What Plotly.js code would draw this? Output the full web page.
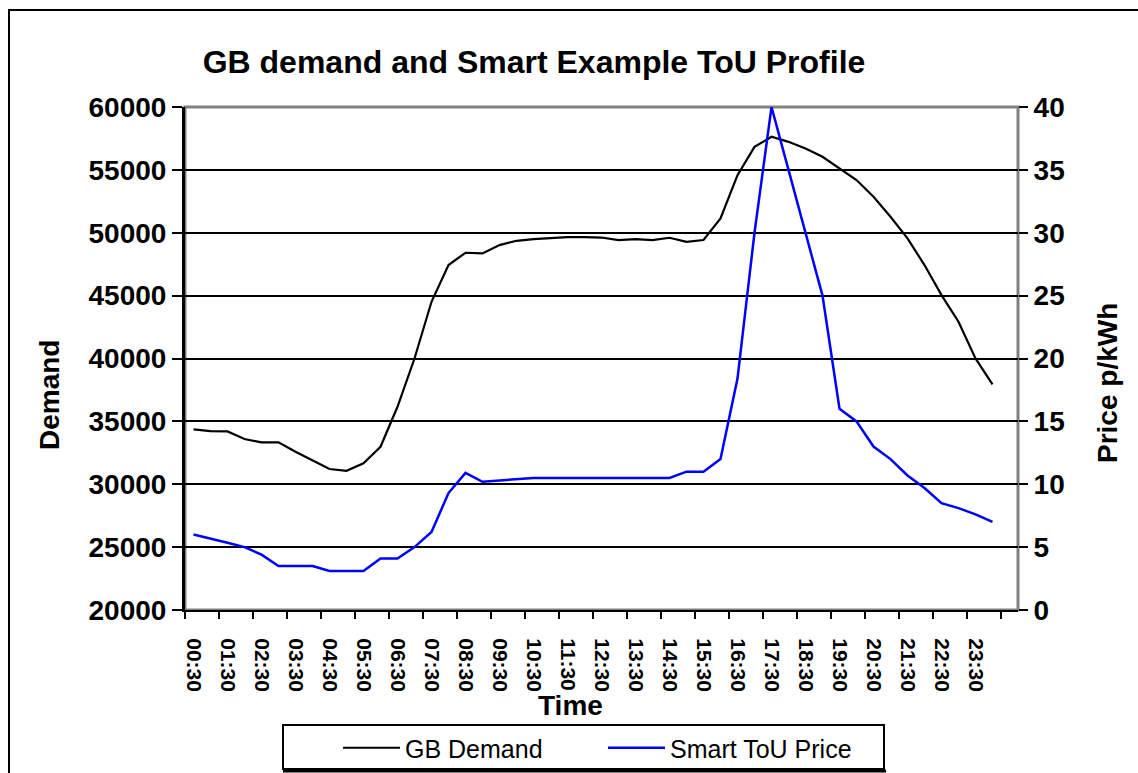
<!DOCTYPE html>
<html>
<head>
<meta charset="utf-8">
<script src="https://cdn.plot.ly/plotly-3.0.1.min.js"></script>
<style>html,body{margin:0;padding:0;background:#fff;}#chart{width:1138px;height:773px;}</style>
</head>
<body>
<div id="chart"></div>
<script>
// Half-hourly time categories
const times = ["00:30","01:00","01:30","02:00","02:30","03:00","03:30","04:00","04:30","05:00","05:30","06:00",
  "06:30","07:00","07:30","08:00","08:30","09:00","09:30","10:00","10:30","11:00","11:30","12:00",
  "12:30","13:00","13:30","14:00","14:30","15:00","15:30","16:00","16:30","17:00","17:30","18:00",
  "18:30","19:00","19:30","20:00","20:30","21:00","21:30","22:00","22:30","23:00","23:30","00:00"];

// GB demand (MW)
const gbDemand = [34370, 34230, 34200, 33600, 33330, 33330, 32590, 31870, 31210, 31070, 31660, 32980,
  36160, 40000, 44510, 47430, 48410, 48360, 49020, 49360, 49500, 49570, 49650, 49650,
  49620, 49420, 49500, 49420, 49600, 49280, 49420, 51140, 54580, 56830, 57630, 57230,
  56700, 56040, 55110, 54190, 52860, 51270, 49550, 47430, 45040, 42920, 40010, 37940];

// Smart ToU price (p/kWh)
const touPrice = [6.0, 5.7, 5.35, 5.0, 4.4, 3.5, 3.5, 3.5, 3.1, 3.1, 3.1, 4.1,
  4.1, 5.0, 6.2, 9.3, 10.9, 10.2, 10.3, 10.4, 10.5, 10.5, 10.5, 10.5,
  10.5, 10.5, 10.5, 10.5, 10.5, 11.0, 11.0, 12.0, 18.4, 30.0, 40.0, 35.0,
  30.0, 25.0, 16.0, 15.0, 13.0, 12.0, 10.7, 9.7, 8.5, 8.1, 7.6, 7.0];

const idx = times.map((t, i) => i);
const labelIdx = idx.filter(i => i % 2 === 0 && i < 47);
const labelText = labelIdx.map(i => times[i]);

const FONT = "Liberation Sans, Arial, sans-serif";

const traces = [
  {x: idx, y: gbDemand, text: times, type: 'scatter', mode: 'lines', name: 'GB Demand',
   line: {color: '#000000', width: 2.2}, yaxis: 'y'},
  {x: idx, y: touPrice, text: times, type: 'scatter', mode: 'lines', name: 'Smart ToU Price',
   line: {color: '#0000ff', width: 2.5}, yaxis: 'y2'}
];

// pixel helpers for paper coords (plot area: x 185..1018, y 107..610)
const PX = px => (px - 185) / 833;
const PY = py => (610 - py) / 503;

const layout = {
  width: 1138, height: 773,
  margin: {l: 185, r: 120, t: 107, b: 163, autoexpand: false},
  paper_bgcolor: '#ffffff', plot_bgcolor: '#ffffff',
  font: {family: FONT, color: '#000'},
  showlegend: true,
  title: {text: 'GB demand and Smart Example ToU Profile', font: {family: FONT, size: 32, color: '#000', weight: 'bold'},
          xref: 'container', x: 534/1138, xanchor: 'center', yref: 'container', y: 1 - 62/773, yanchor: 'middle', automargin: false},
  xaxis: {
    range: [-0.5, 48.5], type: 'linear', zeroline: false, showgrid: false, automargin: false,
    tickmode: 'array', tickvals: labelIdx, ticktext: labelText, tickangle: 90,
    ticks: '', ticklabelstandoff: 22,
    tickfont: {family: FONT, size: 21, color: '#000', weight: 'bold'},
    showline: true, linecolor: '#000', linewidth: 2,
    minor: {tickmode: 'linear', tick0: -0.5, dtick: 2, ticks: 'outside', ticklen: 7, tickwidth: 2, tickcolor: '#000', showgrid: false}
  },
  yaxis: {
    range: [20000, 60000], dtick: 5000, tick0: 20000, zeroline: false, automargin: false,
    tickformat: 'd',
    showgrid: true, gridcolor: '#000', gridwidth: 2,
    ticks: 'outside', ticklen: 10, tickwidth: 2, tickcolor: '#000',
    showline: true, linecolor: '#000', linewidth: 3,
    tickfont: {family: FONT, size: 28, color: '#000', weight: 'bold'}
  },
  yaxis2: {
    range: [0, 40], dtick: 5, tick0: 0, overlaying: 'y', side: 'right', zeroline: false, automargin: false,
    showgrid: false, ticks: 'outside', ticklen: 9, tickwidth: 2, tickcolor: '#000',
    showline: false,
    tickfont: {family: FONT, size: 28, color: '#000', weight: 'bold'}
  },
  legend: {
    orientation: 'h', xref: 'paper', yref: 'paper', x: PX(338), xanchor: 'left', y: PY(725), yanchor: 'top',
    itemwidth: 57, entrywidth: 193, entrywidthmode: 'pixels',
    font: {family: FONT, size: 25, color: '#000'}, bgcolor: 'rgba(0,0,0,0)', borderwidth: 0,
    traceorder: 'normal'
  },
  annotations: [
    {text: 'Demand', xref: 'paper', yref: 'paper', x: PX(49), y: PY(395), textangle: -90, showarrow: false,
     xanchor: 'center', yanchor: 'middle', font: {family: FONT, size: 28, color: '#000', weight: 'bold'}},
    {text: 'Price p/kWh', xref: 'paper', yref: 'paper', x: PX(1107), y: PY(383), textangle: -90, showarrow: false,
     xanchor: 'center', yanchor: 'middle', font: {family: FONT, size: 28, color: '#000', weight: 'bold'}},
    {text: 'Time', xref: 'paper', yref: 'paper', x: PX(570), y: PY(705), showarrow: false,
     xanchor: 'center', yanchor: 'middle', font: {family: FONT, size: 28, color: '#000', weight: 'bold'}}
  ],
  shapes: [
    // plot-area border (grey)
    {type: 'rect', xref: 'paper', yref: 'paper', x0: 0, x1: 1, y0: 0, y1: 1, layer: 'between',
     line: {color: '#808080', width: 3}, fillcolor: 'rgba(0,0,0,0)'},
    // legend box
    {type: 'rect', xref: 'paper', yref: 'paper', x0: PX(283), x1: PX(884), y0: PY(769), y1: PY(725),
     line: {color: '#000', width: 2}, fillcolor: 'rgba(0,0,0,0)'},
    {type: 'line', xref: 'paper', yref: 'paper', x0: PX(283), x1: PX(886), y0: PY(771), y1: PY(771),
     line: {color: '#000', width: 3}},
    // outer chart frame
    {type: 'rect', xref: 'paper', yref: 'paper', x0: PX(9), x1: PX(1150), y0: PY(790), y1: PY(10),
     line: {color: '#000', width: 2}, fillcolor: 'rgba(0,0,0,0)'}
  ]
};

Plotly.newPlot('chart', traces, layout, {displayModeBar: false, staticPlot: true});
</script>
</body>
</html>
